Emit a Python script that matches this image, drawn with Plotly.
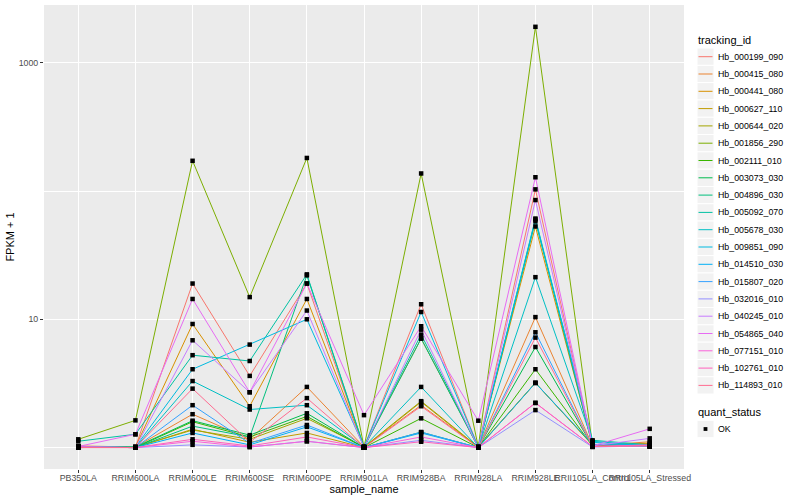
import plotly.graph_objects as go

categories = ["PB350LA", "RRIM600LA", "RRIM600LE", "RRIM600SE", "RRIM600PE", "RRIM901LA",
              "RRIM928BA", "RRIM928LA", "RRIM928LE", "RRII105LA_Control", "RRII105LA_Stressed"]

tracking_ids = ["Hb_000199_090", "Hb_000415_080", "Hb_000441_080", "Hb_000627_110", "Hb_000644_020",
                "Hb_001856_290", "Hb_002111_010", "Hb_003073_030", "Hb_004896_030", "Hb_005092_070",
                "Hb_005678_030", "Hb_009851_090", "Hb_014510_030", "Hb_015807_020", "Hb_032016_010",
                "Hb_040245_010", "Hb_054865_040", "Hb_077151_010", "Hb_102761_010", "Hb_114893_010"]

colors = ["#F8766D", "#EA8331", "#D89000", "#C09B00", "#A3A500", "#7CAE00", "#39B600", "#00BB4E",
          "#00BF7D", "#00C1A3", "#00BFC4", "#00BAE0", "#00B0F6", "#35A2FF", "#9590FF", "#C77CFF",
          "#E76BF3", "#FA62DB", "#FF62BC", "#FF6C91"]

# FPKM + 1 values, one list per tracking_id (order of categories)
fpkm_plus1 = [
    [1.02, 1.01, 19.0, 3.62, 19.0, 1.01, 13.1, 1.01, 103, 1.02, 1.03],    # Hb_000199_090
    [1.03, 1.01, 1.82, 1.16, 2.97, 1.01, 2.14, 1.01, 10.4, 1.03, 1.11],   # Hb_000415_080
    [1.01, 1.01, 9.19, 2.10, 14.4, 1.01, 7.08, 1.01, 52.9, 1.04, 1.02],   # Hb_000441_080
    [1.01, 1.00, 1.39, 1.10, 1.30, 1.00, 2.27, 1.00, 3.19, 1.05, 1.08],   # Hb_000627_110
    [1.02, 1.01, 1.37, 1.16, 1.69, 1.01, 2.30, 1.01, 3.20, 1.04, 1.05],   # Hb_000644_020
    [1.16, 1.63, 172, 14.9, 181, 1.01, 137, 1.01, 1905, 1.03, 1.02],      # Hb_001856_290
    [1.01, 1.00, 1.59, 1.21, 1.75, 1.00, 1.69, 1.00, 4.08, 1.03, 1.04],   # Hb_002111_010
    [1.00, 1.01, 1.62, 1.25, 1.85, 1.00, 1.32, 1.00, 6.08, 1.02, 1.03],   # Hb_003073_030
    [1.01, 1.00, 1.47, 1.21, 22.0, 1.00, 7.08, 1.00, 60.0, 1.02, 1.03],   # Hb_004896_030
    [1.12, 1.27, 5.25, 4.73, 22.4, 1.01, 7.60, 1.01, 58.0, 1.14, 1.05],   # Hb_005092_070
    [1.01, 1.00, 3.30, 1.98, 2.14, 1.01, 2.97, 1.00, 21.3, 1.12, 1.03],   # Hb_005678_030
    [1.01, 1.01, 4.08, 6.35, 10.0, 1.01, 11.4, 1.01, 61.0, 1.10, 1.03],   # Hb_009851_090
    [1.01, 1.00, 1.30, 1.05, 1.45, 1.00, 1.30, 1.00, 3.19, 1.06, 1.04],   # Hb_014510_030
    [1.01, 1.00, 2.14, 1.08, 1.50, 1.00, 1.32, 1.00, 7.92, 1.02, 1.02],   # Hb_015807_020
    [1.01, 1.00, 1.05, 1.01, 1.12, 1.00, 1.14, 1.00, 1.96, 1.01, 1.03],   # Hb_032016_010
    [1.01, 1.00, 6.86, 2.70, 11.7, 1.00, 8.30, 1.00, 85.0, 1.03, 1.18],   # Hb_040245_010
    [1.02, 1.27, 14.4, 2.70, 19.0, 1.79, 8.83, 1.62, 128, 1.03, 1.40],    # Hb_054865_040
    [1.01, 1.00, 1.12, 1.01, 1.12, 1.00, 1.21, 1.00, 2.23, 1.02, 1.05],   # Hb_077151_010
    [1.01, 1.00, 1.16, 1.03, 1.21, 1.00, 1.11, 1.00, 2.23, 1.02, 1.04],   # Hb_102761_010
    [1.00, 1.00, 2.88, 1.10, 2.43, 1.00, 2.10, 1.00, 7.20, 1.02, 1.03],   # Hb_114893_010
]

quant_status = ["OK"]
ytick_vals = [10, 1000]
ytick_text = ["10", "1000"]
yminor_vals = [1, 100]

FONT = "Liberation Sans, Arial, sans-serif"
W, H = 800, 500
ML, MR, MT, MB = 44, 116, 5, 31

fig = go.Figure()
for name, col, vals in zip(tracking_ids, colors, fpkm_plus1):
    fig.add_trace(go.Scatter(x=categories, y=vals, mode="lines", name=name,
                             line=dict(color=col, width=1), showlegend=False))
for name, vals in zip(tracking_ids, fpkm_plus1):
    fig.add_trace(go.Scatter(x=categories, y=vals, mode="markers", name=name,
                             marker=dict(color="black", size=4.5, symbol="square"),
                             showlegend=False))

pw = W - ML - MR
ph = H - MT - MB


def px_x(px):
    return (px - ML) / pw


def px_y(py):
    return (H - MB - py) / ph


shapes = []
annotations = []
# custom ggplot-like legend
annotations.append(dict(x=px_x(695.5), y=px_y(40.5), xref="paper", yref="paper", text="tracking_id",
                        showarrow=False, xanchor="left", yanchor="middle",
                        font=dict(family=FONT, size=11, color="black")))
step = 17.3
for i, (name, col) in enumerate(zip(tracking_ids, colors)):
    cy = 56.7 + step * i
    shapes.append(dict(type="rect", xref="paper", yref="paper",
                       x0=px_x(697), x1=px_x(714), y0=px_y(cy - step / 2), y1=px_y(cy + step / 2),
                       fillcolor="#F2F2F2", line=dict(color="white", width=1), layer="above"))
    shapes.append(dict(type="line", xref="paper", yref="paper",
                       x0=px_x(698.5), x1=px_x(712.5), y0=px_y(cy), y1=px_y(cy),
                       line=dict(color=col, width=1), layer="above"))
    annotations.append(dict(x=px_x(715.5), y=px_y(cy), xref="paper", yref="paper", text=name,
                            showarrow=False, xanchor="left", yanchor="middle",
                            font=dict(family=FONT, size=8.8, color="black")))

annotations.append(dict(x=px_x(695.5), y=px_y(412), xref="paper", yref="paper", text="quant_status",
                        showarrow=False, xanchor="left", yanchor="middle",
                        font=dict(family=FONT, size=11, color="black")))
for j, qs in enumerate(quant_status):
    cy = 429 + step * j
    shapes.append(dict(type="rect", xref="paper", yref="paper",
                       x0=px_x(697), x1=px_x(714), y0=px_y(cy - step / 2), y1=px_y(cy + step / 2),
                       fillcolor="#F2F2F2", line=dict(color="white", width=1), layer="above"))
    shapes.append(dict(type="rect", xref="paper", yref="paper",
                       x0=px_x(703.6), x1=px_x(707.4), y0=px_y(cy - 1.9), y1=px_y(cy + 1.9),
                       fillcolor="black", line=dict(width=0), layer="above"))
    annotations.append(dict(x=px_x(715.5), y=px_y(cy), xref="paper", yref="paper", text=qs,
                            showarrow=False, xanchor="left", yanchor="middle",
                            font=dict(family=FONT, size=8.8, color="black")))

fig.update_layout(
    width=W, height=H,
    margin=dict(l=ML, r=MR, t=MT, b=MB, pad=0, autoexpand=False),
    paper_bgcolor="white", plot_bgcolor="#EBEBEB",
    font=dict(family=FONT, size=9, color="#4D4D4D"),
    showlegend=False,
    shapes=shapes, annotations=annotations,
)
fig.update_xaxes(
    type="category", categoryorder="array", categoryarray=categories,
    range=[-0.6, len(categories) - 0.4],
    showgrid=True, gridcolor="white", gridwidth=1.1,
    zeroline=False, showline=False, automargin=False,
    ticks="outside", ticklen=3, tickwidth=1, tickcolor="#333333",
    ticklabelstandoff=-3,
    tickangle=0, tickfont=dict(family=FONT, size=8.8, color="#4D4D4D"),
    title=dict(text="sample_name", font=dict(family=FONT, size=11, color="black"), standoff=1),
)
fig.update_yaxes(
    type="log", range=[-0.167, 3.45],
    tickmode="array", tickvals=ytick_vals, ticktext=ytick_text,
    showgrid=True, gridcolor="white", gridwidth=1.1,
    minor=dict(tickmode="array", tickvals=yminor_vals, showgrid=True, gridcolor="white",
               gridwidth=0.55, ticks=""),
    zeroline=False, showline=False, automargin=False,
    ticks="outside", ticklen=3, tickwidth=1, tickcolor="#333333",
    tickfont=dict(family=FONT, size=8.8, color="#4D4D4D"),
    title=dict(text="FPKM + 1", font=dict(family=FONT, size=11, color="black"), standoff=1),
)

fig.write_html("out.html", config={"displayModeBar": False},
               post_script="document.body.style.margin='0';document.body.style.padding='0';")
